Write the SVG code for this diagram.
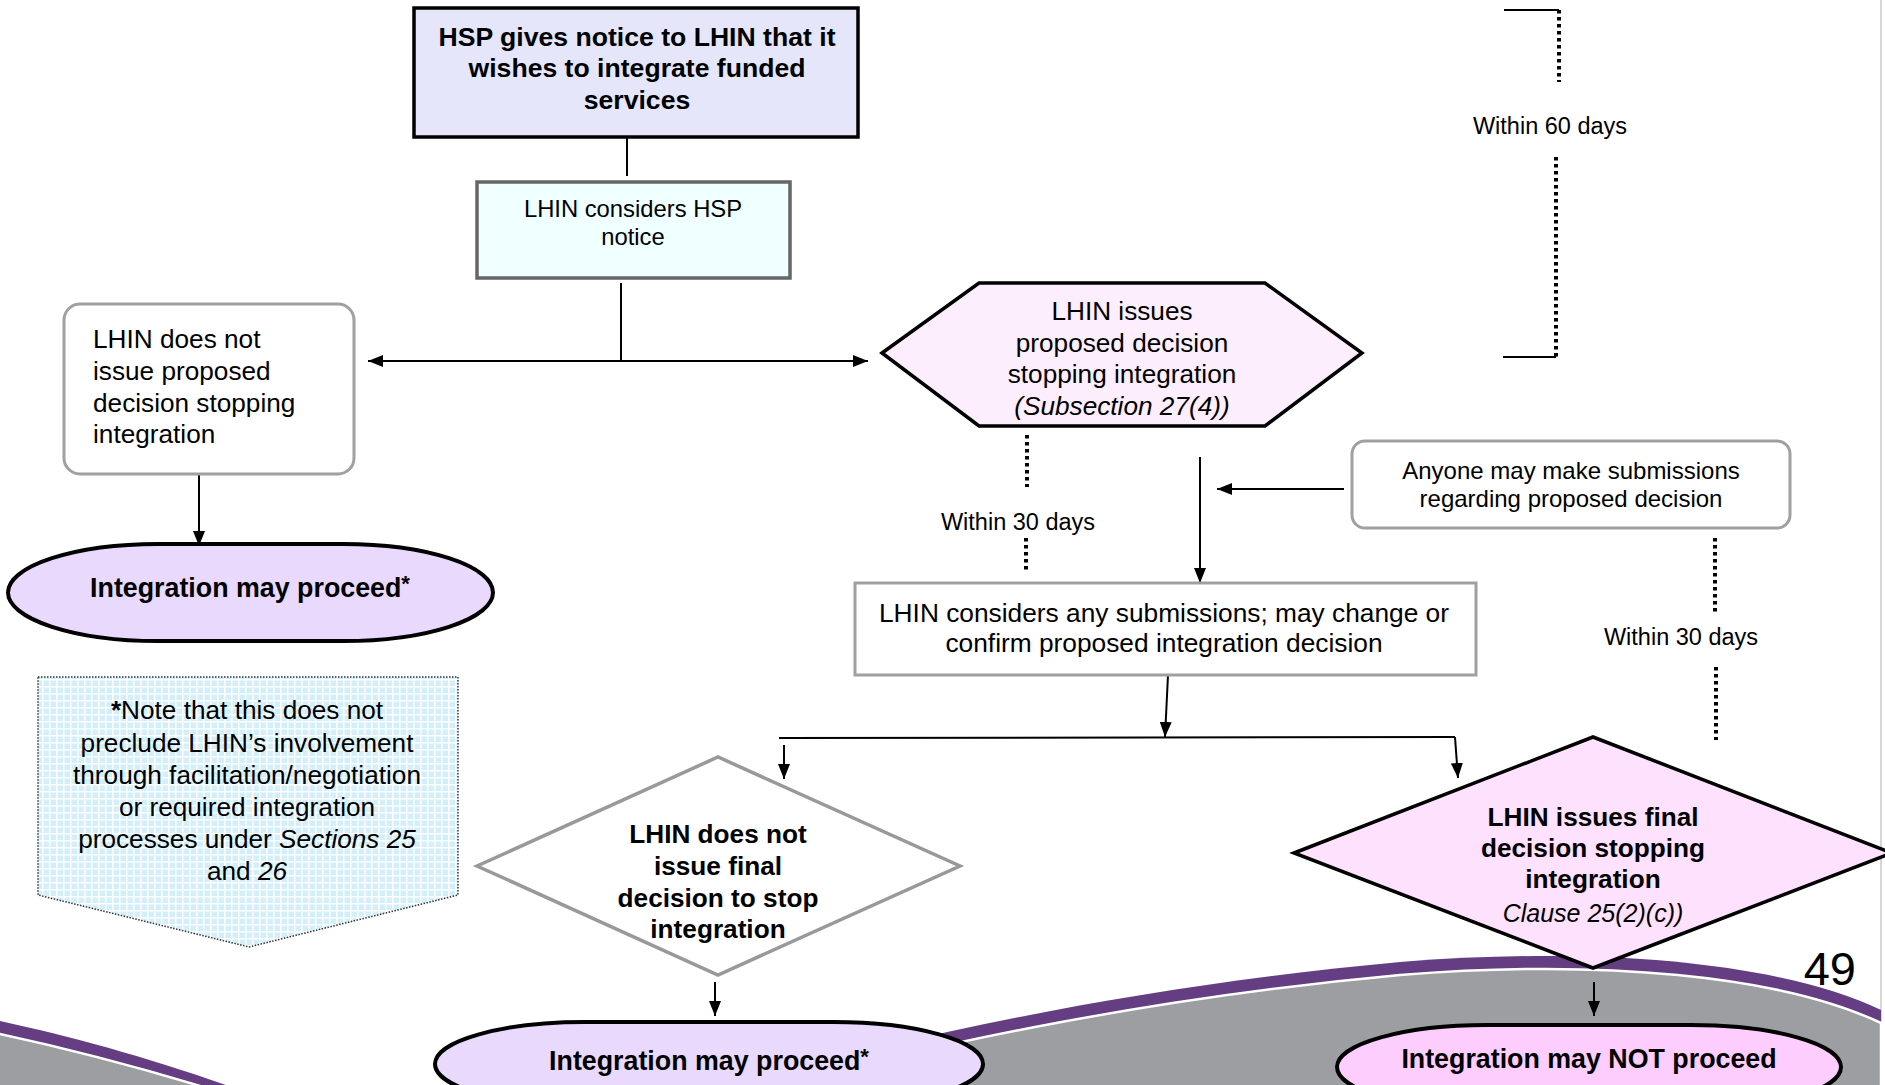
<svg xmlns="http://www.w3.org/2000/svg" width="1885" height="1085" viewBox="0 0 1885 1085">
<style>
text{font-family:"Liberation Sans",Arial,sans-serif;fill:#000}
.b{font-weight:bold}
.c{text-anchor:middle}
.i{font-style:italic}
.ln{stroke:#000;stroke-width:2;fill:none}
.dot{stroke:#000;stroke-width:4;stroke-dasharray:3.5 3.5;fill:none}
.gbox{fill:#fff;stroke:#a0a0a0;stroke-width:3}
</style>
<defs>
<marker id="ah" viewBox="0 0 15 12" refX="15" refY="6" markerWidth="15" markerHeight="12" orient="auto-start-reverse" markerUnits="userSpaceOnUse"><path d="M0,0 L15,6 L0,12 z" fill="#000"/></marker>
<pattern id="grid" width="7" height="7" patternUnits="userSpaceOnUse"><rect width="7" height="7" fill="#d2effa"/><path d="M0 0.75H7M0.75 0V7" stroke="#fff" stroke-width="1.5"/></pattern>
</defs>
<rect width="1885" height="1085" fill="#fff"/>
<line x1="1881" y1="0" x2="1881" y2="1085" stroke="#c8c8c8" stroke-width="1.5"/>

<g id="background-swoosh">
<path d="M-5,1020 C70,1036 150,1058 240,1090 L-5,1090 Z" fill="#653d82"/>
<path d="M-5,1033 C70,1049 145,1069 220,1092 L-5,1092 Z" fill="#9d9ea2" stroke="#fff" stroke-width="2.5"/>
<path d="M720,1092 C900,1035 1150,985 1400,962 C1600,946 1780,962 1881,1010 L1881,1092 Z" fill="#653d82"/>
<path d="M720,1105 C900,1048 1150,998 1400,975 C1600,959 1780,975 1881,1023 L1881,1105 Z" fill="#9d9ea2" stroke="#fff" stroke-width="2.5"/>
</g>

<g id="connectors">
<line class="ln" x1="627" y1="137" x2="627" y2="176"/>
<line class="ln" x1="621" y1="283" x2="621" y2="361"/>
<line class="ln" x1="368" y1="361" x2="868" y2="361" marker-start="url(#ah)" marker-end="url(#ah)"/>
<line class="ln" x1="199" y1="474" x2="199" y2="546" marker-end="url(#ah)"/>
<line class="dot" x1="1027" y1="435" x2="1027" y2="487"/>
<line class="dot" x1="1026" y1="538" x2="1026" y2="572"/>
<text class="c" x="1018" y="530" font-size="23.5">Within 30 days</text>
<line class="ln" x1="1200" y1="457" x2="1200" y2="583" marker-end="url(#ah)"/>
<line class="ln" x1="1344" y1="489" x2="1217" y2="489" marker-end="url(#ah)"/>
<line class="ln" x1="1168" y1="675" x2="1165" y2="737" marker-end="url(#ah)"/>
<line class="ln" x1="779" y1="738" x2="1455" y2="737"/>
<line class="ln" x1="784" y1="745" x2="784" y2="779" marker-end="url(#ah)"/>
<line class="ln" x1="1455" y1="737" x2="1458" y2="778" marker-end="url(#ah)"/>
<line class="ln" x1="715" y1="982" x2="715" y2="1016" marker-end="url(#ah)"/>
<line class="ln" x1="1594" y1="982" x2="1594" y2="1016" marker-end="url(#ah)"/>
<line class="dot" x1="1715" y1="538" x2="1715" y2="612"/>
<line class="dot" x1="1716" y1="667" x2="1716" y2="740"/>
<text class="c" x="1681" y="645" font-size="23.5">Within 30 days</text>
<line class="ln" x1="1504" y1="10" x2="1559" y2="10"/>
<line class="dot" x1="1559" y1="10" x2="1559" y2="82"/>
<text class="c" x="1550" y="134" font-size="23.5">Within 60 days</text>
<line class="dot" x1="1556" y1="157" x2="1556" y2="358"/>
<line class="ln" x1="1503" y1="357" x2="1556" y2="357"/>
</g>

<g id="hsp-notice">
<rect x="414" y="8" width="444" height="129" fill="#e6e6fa" stroke="#000" stroke-width="3.5"/>
<text class="b c" x="637" y="46" font-size="26.6">HSP gives notice to LHIN that it</text>
<text class="b c" x="637" y="77" font-size="26.6">wishes to integrate funded</text>
<text class="b c" x="637" y="109" font-size="26.6">services</text>
</g>

<g id="lhin-considers-notice">
<rect x="477" y="182" width="313" height="96" fill="#f0ffff" stroke="#666" stroke-width="3.5"/>
<text class="c" x="633" y="217" font-size="23.8">LHIN considers HSP</text>
<text class="c" x="633" y="245" font-size="23.8">notice</text>
</g>

<g id="no-proposed-decision">
<rect class="gbox" x="64" y="304" width="290" height="170" rx="16"/>
<text x="93" y="348" font-size="26.2">LHIN does not</text>
<text x="93" y="380" font-size="26.2">issue proposed</text>
<text x="93" y="412" font-size="26.2">decision stopping</text>
<text x="93" y="443" font-size="26.2">integration</text>
</g>

<g id="may-proceed-1">
<rect x="8" y="544" width="485" height="97" rx="150" ry="48.5" fill="#e8d9fd" stroke="#000" stroke-width="4"/>
<text class="b c" x="250" y="597" font-size="26.8">Integration may proceed<tspan font-size="22" dy="-6">*</tspan></text>
</g>

<g id="proposed-decision">
<polygon points="882,353 979,283 1265,283 1362,353 1265,426 979,426" fill="#fdeefd" stroke="#000" stroke-width="3.5"/>
<text class="c" x="1122" y="320" font-size="26.2">LHIN issues</text>
<text class="c" x="1122" y="352" font-size="26.2">proposed decision</text>
<text class="c" x="1122" y="383" font-size="26.2">stopping integration</text>
<text class="c i" x="1122" y="415" font-size="26.2">(Subsection 27(4))</text>
</g>

<g id="submissions">
<rect class="gbox" x="1352" y="441" width="438" height="87" rx="13"/>
<text class="c" x="1571" y="479" font-size="24">Anyone may make submissions</text>
<text class="c" x="1571" y="507" font-size="24">regarding proposed decision</text>
</g>

<g id="considers-submissions">
<rect class="gbox" x="855" y="583" width="621" height="92"/>
<text class="c" x="1164" y="622" font-size="26.3">LHIN considers any submissions; may change or</text>
<text class="c" x="1164" y="652" font-size="26.3">confirm proposed integration decision</text>
</g>

<g id="note">
<polygon points="38,677 458,677 458,895 249,947 38,895" fill="url(#grid)" stroke="#333" stroke-width="1.5" stroke-dasharray="1.5 1.5"/>
<text class="c" x="247" y="719" font-size="26.2"><tspan font-weight="bold">*</tspan>Note that this does not</text>
<text class="c" x="247" y="752" font-size="26.2">preclude LHIN’s involvement</text>
<text class="c" x="247" y="784" font-size="26.2">through facilitation/negotiation</text>
<text class="c" x="247" y="816" font-size="26.2">or required integration</text>
<text class="c" x="247" y="848" font-size="26.2">processes under <tspan font-style="italic">Sections 25</tspan></text>
<text class="c" x="247" y="880" font-size="26.2">and <tspan font-style="italic">26</tspan></text>
</g>

<g id="no-final-decision">
<polygon points="477,866 718,757 960,866 718,975" fill="#fff" stroke="#999" stroke-width="3.5"/>
<text class="b c" x="718" y="843" font-size="26.2">LHIN does not</text>
<text class="b c" x="718" y="875" font-size="26.2">issue final</text>
<text class="b c" x="718" y="907" font-size="26.2">decision to stop</text>
<text class="b c" x="718" y="938" font-size="26.2">integration</text>
</g>

<g id="final-decision">
<polygon points="1294,853 1593,737 1892,853 1593,968" fill="#fde1fd" stroke="#000" stroke-width="3.5"/>
<text class="b c" x="1593" y="826" font-size="26.2">LHIN issues final</text>
<text class="b c" x="1593" y="857" font-size="26.2">decision stopping</text>
<text class="b c" x="1593" y="888" font-size="26.2">integration</text>
<text class="c i" x="1593" y="922" font-size="25">Clause 25(2)(c))</text>
</g>

<g id="may-proceed-2">
<rect x="435" y="1022" width="548" height="84" rx="150" ry="42" fill="#e8d9fd" stroke="#000" stroke-width="4"/>
<text class="b c" x="709" y="1070" font-size="26.8">Integration may proceed<tspan font-size="22" dy="-6">*</tspan></text>
</g>

<g id="may-not-proceed">
<rect x="1337" y="1025" width="504" height="84" rx="150" ry="42" fill="#fdcefd" stroke="#000" stroke-width="4"/>
<text class="b c" x="1589" y="1068" font-size="26.8">Integration may NOT proceed</text>
</g>

<text x="1856" y="985" font-size="47" text-anchor="end" fill="#1a1a1a">49</text>
</svg>
